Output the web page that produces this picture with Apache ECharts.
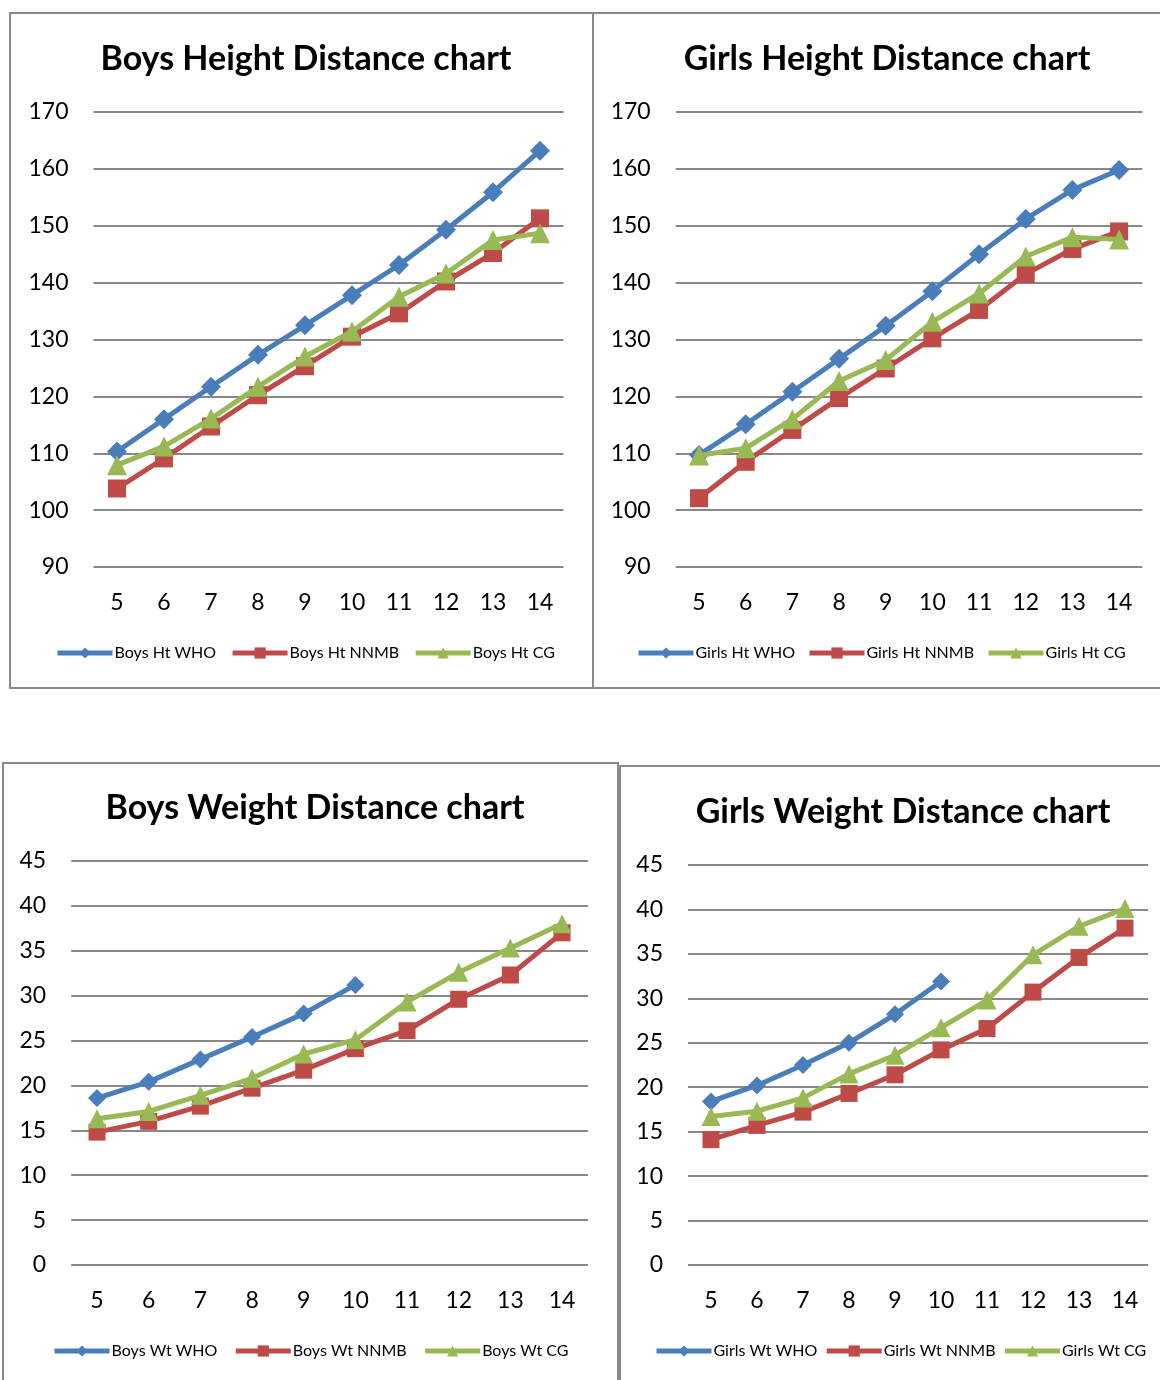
<!DOCTYPE html>
<html>
<head>
<meta charset="utf-8">
<script src="https://cdn.jsdelivr.net/npm/echarts@6/dist/echarts.min.js"></script>
<style>
html,body{margin:0;padding:0;background:#fff;}
#main{width:1160px;height:1380px;}
</style>
</head>
<body>
<div id="main"></div>
<script>
const ages = ['5','6','7','8','9','10','11','12','13','14'];

const boysHtWHO  = [110.3, 116.0, 121.7, 127.3, 132.5, 137.8, 143.1, 149.3, 155.9, 163.2];
const boysHtNNMB = [103.8, 109.1, 114.7, 120.2, 125.3, 130.5, 134.6, 140.2, 145.2, 151.3];
const boysHtCG   = [107.9, 111.2, 116.1, 121.7, 127.0, 131.4, 137.5, 141.6, 147.5, 148.7];

const girlsHtWHO  = [109.7, 115.1, 120.8, 126.6, 132.4, 138.5, 145.0, 151.2, 156.3, 159.8];
const girlsHtNNMB = [102.1, 108.5, 114.1, 119.7, 124.9, 130.2, 135.2, 141.5, 145.9, 149.0];
const girlsHtCG   = [109.6, 110.9, 116.0, 122.7, 126.4, 133.1, 138.1, 144.6, 148.0, 147.6];

const boysWtWHO  = [18.6, 20.4, 22.9, 25.4, 28.0, 31.2, null, null, null, null];
const boysWtNNMB = [14.8, 16.0, 17.7, 19.7, 21.7, 24.1, 26.1, 29.6, 32.3, 37.0];
const boysWtCG   = [16.3, 17.1, 18.9, 20.8, 23.5, 25.1, 29.3, 32.6, 35.3, 38.0];

const girlsWtWHO  = [18.4, 20.2, 22.5, 25.0, 28.2, 31.9, null, null, null, null];
const girlsWtNNMB = [14.1, 15.7, 17.2, 19.3, 21.4, 24.2, 26.6, 30.7, 34.6, 37.9];
const girlsWtCG   = [16.7, 17.3, 18.8, 21.5, 23.6, 26.7, 29.8, 34.9, 38.1, 40.1];

const titles = ['Boys Height Distance chart','Girls Height Distance chart','Boys Weight Distance chart','Girls Weight Distance chart'];
const seriesNames = [
  ['Boys Ht WHO','Boys Ht NNMB','Boys Ht CG'],
  ['Girls Ht WHO','Girls Ht NNMB','Girls Ht CG'],
  ['Boys Wt WHO','Boys Wt NNMB','Boys Wt CG'],
  ['Girls Wt WHO','Girls Wt NNMB','Girls Wt CG']
];
const seriesData = [
  [boysHtWHO, boysHtNNMB, boysHtCG],
  [girlsHtWHO, girlsHtNNMB, girlsHtCG],
  [boysWtWHO, boysWtNNMB, boysWtCG],
  [girlsWtWHO, girlsWtNNMB, girlsWtCG]
];
const yRanges = [[90,170,10],[90,170,10],[0,45,5],[0,45,5]];

const FONT = 'Lato, "Open Sans", sans-serif';
const colors = ['#4A7EBB','#BE4B48','#98B954'];
const symbols = ['diamond','rect','triangle'];

// layout
const grids = [
  {left:93.5, top:112, width:470, height:455},
  {left:675.7, top:112, width:466.7, height:455},
  {left:71.2, top:861, width:516.7, height:404},
  {left:688, top:865, width:460, height:400}
];
const titlePos = [
  {x:301, y:37},{x:882, y:37},{x:310, y:786},{x:898, y:790}
];
const legendPos = [
  {left:55, top:645, gap:14},{left:636, top:645, gap:12},{left:52, top:1343, gap:16},{left:654, top:1343, gap:7}
];
const symSizes = [[20,18,20],[20,18,20],[18,17,19],[18,17,19]];

const option = {
  animation:false,
  backgroundColor:'#fff',
  title: titles.map((t,i)=>({
    text:t, left:titlePos[i].x, top:titlePos[i].y, textAlign:'center',
    textStyle:{fontFamily:FONT, fontWeight:'bold', fontSize:34, color:'#000'}
  })),
  legend: seriesNames.map((names,i)=>({
    data:names, left:legendPos[i].left, top:legendPos[i].top, padding:0,
    itemWidth:55, itemHeight:14, itemGap:legendPos[i].gap,
    lineStyle:{width:5},
    textStyle:{fontFamily:FONT, fontSize:16, color:'#000', padding:[0,0,0,-3]},
    selectedMode:false
  })),
  grid: grids.map(g=>Object.assign({containLabel:false}, g)),
  xAxis: grids.map((g,i)=>({
    type:'category', gridIndex:i, data:ages, boundaryGap:true,
    axisLine:{show:false}, axisTick:{show:false},
    axisLabel:{fontFamily:FONT, fontSize:23, color:'#000', margin:24}
  })),
  yAxis: grids.map((g,i)=>({
    type:'value', gridIndex:i, min:yRanges[i][0], max:yRanges[i][1], interval:yRanges[i][2],
    axisLine:{show:false}, axisTick:{show:false},
    axisLabel:{fontFamily:FONT, fontSize:23, color:'#000', margin:25},
    splitLine:{show:true, lineStyle:{color:'#888888', width:2}}
  })),
  series: [],
  graphic: [
    {type:'polyline', shape:{points:[[1160,13],[10,13],[10,688],[1160,688]]}, style:{stroke:'#8a8a8a', lineWidth:2, fill:null}},
    {type:'line', shape:{x1:593,y1:13,x2:593,y2:688}, style:{stroke:'#8a8a8a', lineWidth:2}},
    {type:'polyline', shape:{points:[[3,1380],[3,763],[618,763],[618,1380]]}, style:{stroke:'#8a8a8a', lineWidth:2, fill:null}},
    {type:'polyline', shape:{points:[[620,1380],[620,766],[1160,766]]}, style:{stroke:'#8a8a8a', lineWidth:2, fill:null}}
  ]
};

seriesNames.forEach((names,i)=>{
  names.forEach((n,j)=>{
    option.series.push({
      name:n, type:'line', xAxisIndex:i, yAxisIndex:i,
      data:seriesData[i][j],
      symbol:symbols[j], symbolSize:symSizes[i][j],
      lineStyle:{color:colors[j], width:5},
      itemStyle:{color:colors[j]},
      connectNulls:false,
      z:2+j
    });
  });
});

const chart = echarts.init(document.getElementById('main'), null, {renderer:'canvas'});
chart.setOption(option);
</script>
</body>
</html>
